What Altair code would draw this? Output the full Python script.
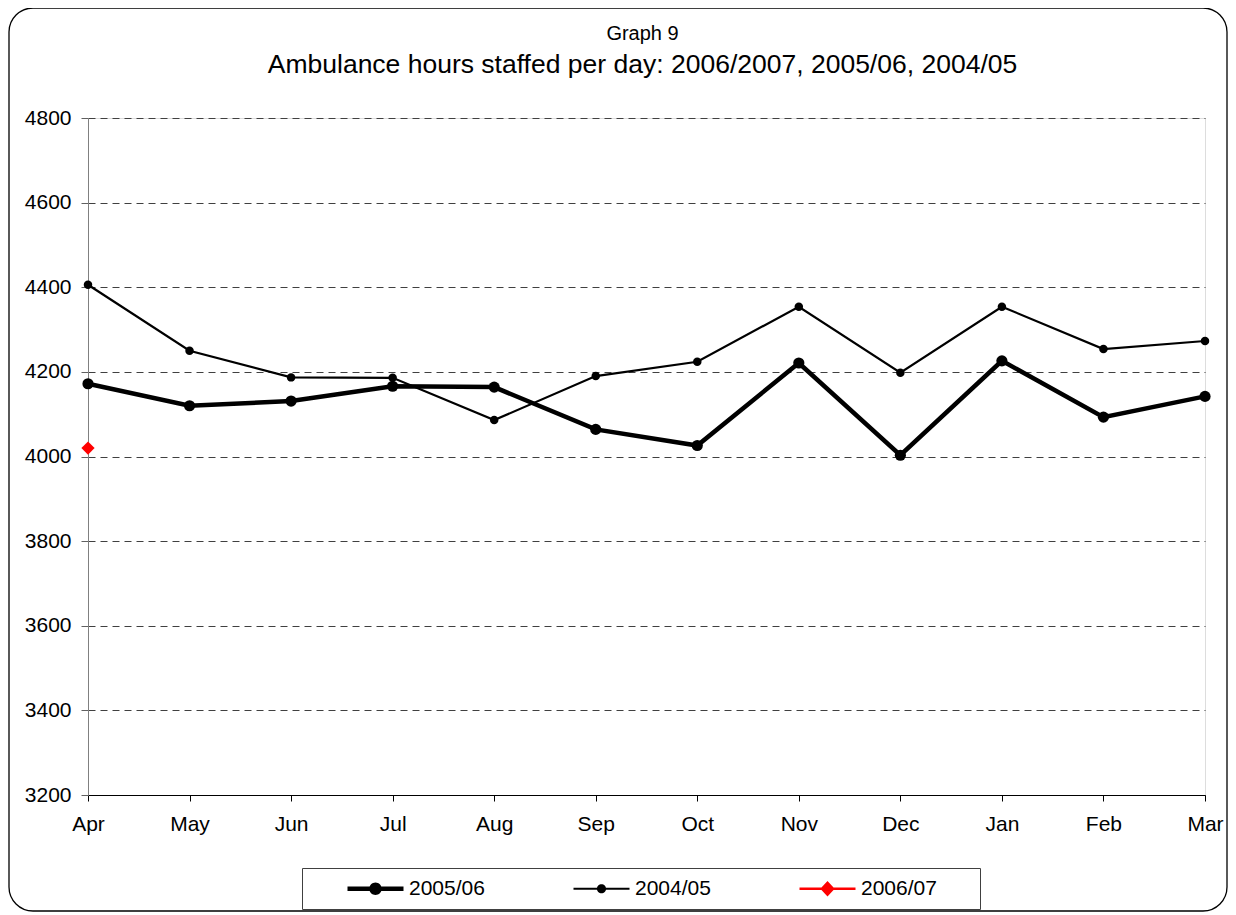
import altair as alt
import pandas as pd

# ---- data ----
months = ["Apr", "May", "Jun", "Jul", "Aug", "Sep", "Oct", "Nov", "Dec", "Jan", "Feb", "Mar"]
series_names = ["2005/06", "2004/05", "2006/07"]
vals_2005_06 = [4172, 4120, 4131, 4166, 4164, 4064, 4026, 4221, 4003, 4226, 4093, 4142]
vals_2004_05 = [4406, 4250, 4187, 4186, 4086, 4190, 4224, 4354, 4198, 4354, 4254, 4273]
vals_2006_07 = [4020]
y_ticks = [3200, 3400, 3600, 3800, 4000, 4200, 4400, 4600, 4800]


def table(name, vals):
    return pd.DataFrame({"month": months[: len(vals)], "value": vals, "series": name})


df_a = table(series_names[0], vals_2005_06)
df_b = table(series_names[1], vals_2004_05)
df_c = table(series_names[2], vals_2006_07)
df_all = pd.concat([df_a, df_b, df_c], ignore_index=True)

FONT = "Liberation Sans"
W, H = 1117, 677
series_colors = ["black", "black", "red"]

# legend symbol paths (filled line bar + marker), unit = 10px at size 400
P_THICK = "M-2.8,-0.22H2.8V0.22H-2.8Z M-0.62,0A0.62,0.62 0 1,1 0.62,0A0.62,0.62 0 1,1 -0.62,0Z"
P_THIN = "M-2.8,-0.1H2.8V0.1H-2.8Z M-0.46,0A0.46,0.46 0 1,1 0.46,0A0.46,0.46 0 1,1 -0.46,0Z"
# last symbol carries an unfilled, unstroked guide segment that widens the legend box on the right
P_DIAM = "M-2.8,-0.12H2.8V0.12H-2.8Z M0,-0.78L0.72,0L0,0.78L-0.72,0Z M0,0H14.2"

legend = alt.Legend(
    title=None,
    orient="none",
    legendX=214,
    legendY=750,
    direction="horizontal",
    padding=10,
    strokeColor="#404040",
    fillColor="white",
    labelFont=FONT,
    labelFontSize=21,
    labelColor="black",
    labelBaseline="middle",
    symbolSize=400,
    symbolStrokeWidth=0,
    symbolOffset=53,
    labelOffset=23,
    columnPadding=53,
)

x_enc = alt.X(
    "month:N",
    sort=months,
    scale=alt.Scale(type="point", padding=0, domain=months),
    axis=alt.Axis(
        title=None,
        labelAngle=0,
        domainColor="black",
        tickColor="black",
        tickSize=6,
        labelFont=FONT,
        labelFontSize=21,
        labelColor="black",
        labelPadding=12,
        grid=False,
    ),
)
y_enc = alt.Y(
    "value:Q",
    scale=alt.Scale(domain=[3200, 4800], nice=False, zero=False),
    axis=alt.Axis(
        title=None,
        values=y_ticks,
        format="d",
        grid=True,
        gridDash=[7, 5],
        gridColor="#404040",
        gridWidth=1,
        domainColor="#808080",
        tickColor="#606060",
        tickSize=7,
        labelFont=FONT,
        labelFontSize=21,
        labelColor="black",
        labelPadding=10,
    ),
)

line_a = alt.Chart(df_a).mark_line(color="black", strokeWidth=4.5).encode(x=x_enc, y=y_enc)
line_b = alt.Chart(df_b).mark_line(color="black", strokeWidth=2.2).encode(x=x_enc, y=y_enc)

pts_a = alt.Chart(df_a).mark_point(filled=True, opacity=1, shape="circle", color="black", size=125).encode(x=x_enc, y=y_enc)
pts_b = alt.Chart(df_b).mark_point(filled=True, opacity=1, shape="circle", color="black", size=72).encode(x=x_enc, y=y_enc)
pts_c = alt.Chart(df_c).mark_point(filled=True, opacity=1, shape="diamond", color="red", size=175).encode(x=x_enc, y=y_enc)

# layer that only feeds the legend (no rows drawn)
legend_layer = alt.Chart(df_all).transform_filter("false").mark_point(
    filled=True, opacity=1, size=400, strokeWidth=0
).encode(
    x=x_enc,
    y=y_enc,
    fill=alt.Fill("series:N", scale=alt.Scale(domain=series_names, range=series_colors), legend=legend),
    shape=alt.Shape("series:N", scale=alt.Scale(domain=series_names, range=[P_THICK, P_THIN, P_DIAM]), legend=legend),
)

frame = alt.Chart(alt.Data(values=[{"f": 1}])).mark_rect(
    fill="transparent", stroke="black", strokeWidth=1.3, cornerRadius=24
).encode(
    x=alt.value(-79), x2=alt.value(1139), y=alt.value(-110), y2=alt.value(793)
)

chart = alt.layer(frame, line_b, line_a, pts_b, pts_a, pts_c, legend_layer).properties(
    width=W,
    height=H,
    padding={"left": 80, "top": 110, "right": 23, "bottom": 117},
    autosize=alt.AutoSizeParams(type="none"),
    title=alt.TitleParams(
        text="Graph 9",
        subtitle="Ambulance hours staffed per day: 2006/2007, 2005/06, 2004/05",
        font=FONT,
        fontSize=20,
        fontWeight="normal",
        color="black",
        subtitleFont=FONT,
        subtitleFontSize=26.5,
        subtitleColor="black",
        subtitlePadding=7.5,
        anchor="middle",
        dx=-4,
        offset=-71,
    ),
).configure_view(stroke="#808080", strokeWidth=1).configure(font=FONT)

chart.save("out.html", embed_options={"renderer": "svg", "actions": False})
